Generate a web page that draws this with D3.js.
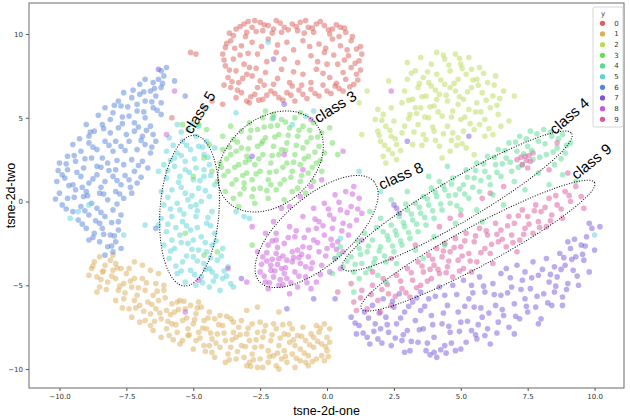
<!DOCTYPE html>
<html>
<head>
<meta charset="utf-8">
<title>t-SNE scatter</title>
<style>
    body { margin: 0; background: #fff; }
    .tick text { font: 7px "DejaVu Sans", sans-serif; fill: #333; }
    .tick line { stroke: #555; }
    .axis-label { font: 12.5px "Liberation Sans", Arial, sans-serif; fill: #000; }
    .note { font: 15px "Liberation Sans", Arial, sans-serif; fill: #000; }
    .ring { fill: none; stroke: #000; stroke-width: 1; stroke-dasharray: 1 1.6; }
    .legend text { font: 7px "DejaVu Sans", sans-serif; fill: #333; }
</style>
</head>
<body>
<svg width="630" height="419"></svg>
<script src="https://d3js.org/d3.v7.min.js"></script>
<script>
const labels = ["0", "1", "2", "3", "4", "5", "6", "7", "8", "9"];
const colors = ["#db5f57", "#dbae57", "#b9db57", "#69db57", "#57db94",
                "#57d3db", "#5784db", "#7957db", "#c957db", "#db579e"];

const xTicks = [-10, -7.5, -5, -2.5, 0, 2.5, 5, 7.5, 10];
const yTicks = [-10, -5, 0, 5, 10];

// digit 0
const class0 = [[-3.4,10.3],[-3.1,10.6],[-2.8,10.4],[-2.5,10.7],[-2.2,10.5],[-1.9,10.8],[-1.6,10.4],[-1.3,10.6],[-1.0,10.7],[-0.7,10.4],[-0.4,10.6],[-0.1,10.5],[0.2,10.3],[0.5,10.4],[0.7,10.1],[-3.0,10.1],[-2.4,10.2],[-1.7,10.1],[-1.1,10.2],[-0.5,10.1],[0.1,10.0],[-2.0,10.3],[-0.8,10.8],[-2.7,10.8],
  [-3.8,9.2],[-3.6,9.6],[-3.9,8.8],[-3.5,8.5],[-3.8,8.1],[-3.4,7.8],[-3.7,7.4],[-3.3,7.1],[-3.6,6.8],[-3.2,6.5],[-3.5,9.9],[-3.2,9.3],[-3.1,8.2],[-3.4,6.2],[-3.0,7.6],
  [-3.0,6.0],[-2.7,6.4],[-2.4,6.1],[-2.1,6.6],[-1.8,6.2],[-1.5,6.5],[-1.2,6.0],[-0.9,6.4],[-0.6,6.7],[-0.3,6.3],[0.0,6.6],[0.3,6.9],[0.6,6.6],[-2.6,6.8],[-1.3,6.9],[-2.9,5.9],
  [0.9,9.6],[1.1,9.1],[0.8,8.7],[1.2,8.4],[0.9,8.0],[1.1,7.6],[0.7,7.3],[1.0,7.0],[0.5,9.3],[0.4,8.2],[0.6,7.7],[1.3,8.8],
  [-2.8,9.5],[-2.2,9.7],[-1.5,9.5],[-0.9,9.6],[-0.3,9.4],[0.2,9.7],[-2.6,8.8],[-1.9,8.9],[-0.6,8.7],[-0.1,8.9],[-2.9,8.0],[-2.3,7.7],[-1.7,7.9],[-0.9,7.6],[-0.4,7.9],[0.1,7.4],[-2.5,7.2],[-1.4,7.1],[-0.6,7.1],[-2.0,7.0],[-1.1,8.3],[-2.8,7.5],[-1.6,8.5],[0.0,8.2],
  [-3.65,10.05],[-3.25,10.45],[-2.95,10.75],[-2.65,10.15],[-2.35,10.55],[-2.05,10.05],[-1.75,10.65],[-1.45,10.25],[-1.15,10.45],[-0.85,10.05],[-0.55,10.35],[-0.25,10.75],[0.05,10.25],[0.35,10.55],[0.65,10.35],[0.95,9.85],[-3.75,9.45],[-3.45,9.15],[-3.85,8.45],[-3.25,8.75],[-3.65,7.85],[-3.15,7.35],[-3.55,7.15],[-3.85,6.95],[-3.35,6.65],[-2.85,6.25],[-2.55,6.05],[-2.25,6.35],[-1.95,6.45],[-1.65,6.05],[-1.35,6.35],[-1.05,6.65],[-0.75,6.15],[-0.45,6.45],[-0.15,6.95],[0.15,6.45],[0.45,6.75],[0.85,6.85],[1.15,7.25],[1.25,7.85],[1.05,8.25],[1.25,9.25],[0.75,9.05],[0.65,8.45],[0.35,7.05],[-2.45,9.25],[-1.85,9.35],[-1.25,9.05],[-0.65,9.25],[-0.05,9.15],[0.45,9.85],[-2.95,8.85],[-2.25,8.35],[-0.35,8.35],[-2.65,7.95],[-1.25,7.75],[-0.15,7.65],[-1.85,7.35],[-0.95,6.95],[-2.35,6.95],[0.25,8.75],[-3.05,9.85],
  [-5.1,8.9],[-4.9,8.8],[-4.3,6.0],[-5.8,5.0],[-3.9,5.8]];

// digit 1
const class1 = [[-8.8,-4.0],[-8.7,-3.6],[-8.6,-4.5],[-8.5,-3.3],[-8.5,-5.1],[-8.4,-4.2],[-8.3,-3.8],[-8.6,-5.4],[-8.2,-4.8],[-8.9,-4.4],
  [-8.1,-3.5],[-8.0,-4.1],[-7.9,-3.7],[-7.9,-4.6],[-7.8,-5.3],[-7.7,-4.0],[-7.6,-4.9],[-7.6,-5.8],[-7.9,-5.9],[-8.0,-3.2],
  [-7.5,-4.3],[-7.4,-6.4],[-7.3,-5.1],[-7.3,-6.9],[-7.2,-4.6],[-7.1,-5.6],[-7.0,-6.2],[-7.0,-7.2],[-7.4,-4.0],[-7.2,-5.9],
  [-6.9,-4.6],[-6.8,-5.3],[-6.7,-6.0],[-6.6,-6.7],[-6.6,-7.4],[-6.5,-5.6],[-6.4,-6.4],[-6.4,-4.9],[-6.8,-7.1],[-6.5,-7.7],
  [-6.3,-5.9],[-6.2,-7.0],[-6.1,-5.3],[-6.0,-6.5],[-6.0,-7.6],[-5.9,-8.0],[-5.8,-6.1],[-5.8,-7.3],[-6.2,-8.1],[-6.1,-5.0],
  [-5.7,-6.6],[-5.6,-7.8],[-5.5,-5.9],[-5.4,-7.1],[-5.4,-8.3],[-5.3,-6.4],[-5.2,-7.6],[-5.6,-6.0],[-5.2,-8.0],[-5.5,-8.5],
  [-5.1,-6.2],[-5.0,-7.3],[-4.9,-8.3],[-4.9,-6.7],[-4.8,-7.8],[-4.7,-6.3],[-4.6,-7.1],[-4.6,-8.6],[-5.0,-8.8],[-4.8,-6.0],
  [-4.5,-7.6],[-4.4,-6.6],[-4.3,-8.2],[-4.3,-9.0],[-4.2,-7.0],[-4.1,-7.9],[-4.0,-8.7],[-4.0,-6.8],[-4.4,-8.6],[-4.2,-9.3],
  [-3.9,-7.4],[-3.8,-8.3],[-3.7,-9.1],[-3.6,-7.0],[-3.6,-8.7],[-3.5,-7.8],[-3.4,-9.4],[-3.4,-8.1],[-3.8,-9.6],[-3.5,-7.2],
  [-3.3,-7.5],[-3.2,-8.6],[-3.1,-9.3],[-3.0,-7.9],[-3.0,-9.8],[-2.9,-8.3],[-2.8,-7.3],[-2.8,-9.1],[-3.2,-7.1],[-2.9,-9.6],
  [-2.7,-8.7],[-2.6,-7.8],[-2.5,-9.4],[-2.4,-8.1],[-2.4,-9.9],[-2.3,-7.4],[-2.2,-8.9],[-2.2,-9.6],[-2.6,-9.9],[-2.5,-7.2],
  [-2.1,-8.3],[-2.0,-9.2],[-1.9,-7.6],[-1.9,-9.8],[-1.8,-8.6],[-1.7,-9.4],[-1.6,-7.9],[-1.6,-8.9],[-2.0,-7.3],[-1.8,-10.0],
  [-1.5,-9.6],[-1.4,-8.4],[-1.3,-7.6],[-1.3,-9.1],[-1.2,-9.9],[-1.1,-8.0],[-1.0,-8.8],[-1.0,-9.5],[-1.4,-7.3],[-1.2,-8.6],
  [-0.9,-7.5],[-0.8,-8.3],[-0.7,-9.2],[-0.7,-9.8],[-0.6,-7.9],[-0.5,-8.7],[-0.4,-9.4],[-0.4,-7.4],[-0.8,-9.6],[-0.5,-8.1],
  [-0.3,-7.8],[-0.2,-8.5],[-0.2,-9.2],[-0.1,-7.3],[0.0,-8.1],[0.0,-8.9],[0.1,-7.6],[-0.1,-9.5],[0.1,-8.4],
  [-8.75,-3.85],[-8.45,-4.65],[-8.25,-5.25],[-8.05,-4.45],[-7.85,-3.95],[-7.75,-5.05],[-7.55,-5.45],[-7.35,-4.75],[-7.15,-6.35],[-7.05,-5.15],[-6.85,-6.55],[-6.75,-4.85],[-6.55,-6.15],[-6.45,-7.15],[-6.35,-5.35],[-6.25,-6.65],[-6.05,-5.75],[-5.95,-7.15],[-5.85,-6.75],[-5.65,-7.35],[-5.55,-6.45],[-5.35,-5.95],[-5.25,-6.95],[-5.15,-7.95],[-4.95,-7.05],[-4.85,-6.35],[-4.75,-8.15],[-4.65,-7.55],[-4.45,-6.95],[-4.35,-7.85],[-4.15,-8.45],[-4.05,-7.35],[-3.85,-7.85],[-3.75,-6.85],[-3.65,-9.45],[-3.55,-8.25],[-3.35,-8.95],[-3.25,-7.95],[-3.05,-8.65],[-2.95,-7.55],[-2.75,-9.45],[-2.65,-8.25],[-2.45,-8.65],[-2.35,-7.75],[-2.15,-9.25],[-2.05,-7.95],[-1.85,-9.05],[-1.75,-8.15],[-1.55,-9.25],[-1.45,-7.95],[-1.25,-8.25],[-1.15,-9.35],[-0.95,-8.05],[-0.85,-9.05],[-0.65,-8.55],[-0.55,-9.55],[-0.35,-8.35],[-0.25,-7.55],[-0.05,-8.65],[0.05,-9.25],[-1.65,-7.35],[-2.85,-9.85],[-4.55,-8.95],[-5.75,-8.25],[-7.65,-6.35],[-8.35,-4.15],
  [-6.9,-3.8],[-6.6,-4.1],[-6.3,-4.3],[-7.2,-3.6],[-2.6,-6.3],[-1.8,-6.6],[-3.0,-6.5]];

// digit 2
const class2 = [[1.8,4.9],[1.9,4.2],[2.0,3.6],[2.1,5.2],[2.2,4.5],[2.3,3.1],[2.4,3.9],[2.5,4.8],[2.6,3.4],[2.1,2.7],[2.6,2.5],[1.9,5.5],[2.4,5.6],[2.2,2.3],[2.8,4.1],
  [2.8,5.9],[2.9,6.6],[3.0,7.3],[3.1,5.2],[3.2,6.1],[3.3,7.8],[3.4,4.6],[3.4,6.8],[3.5,5.6],[3.6,7.4],[3.7,3.7],[3.7,6.3],[3.8,5.0],[3.9,8.2],[3.9,6.9],[4.0,4.2],[4.0,5.7],[4.1,7.6],[4.2,3.3],[4.2,6.4],[4.3,5.1],[4.4,8.5],[4.4,7.0],[4.5,4.5],[4.5,6.0],[4.6,3.0],[4.6,7.8],[4.7,5.4],[4.8,8.8],[4.8,6.6],[4.9,3.8],[4.9,7.3],[5.0,4.9],[5.0,8.2],[5.1,6.1],[5.2,7.6],[5.2,3.2],[5.3,5.5],[5.3,8.6],[5.4,6.8],[5.5,4.3],[5.6,7.3],[5.6,5.9],[5.7,8.0],[5.8,6.5],[5.9,4.9],[6.0,7.1],[6.1,5.6],[6.2,6.3],[6.3,7.5],[6.4,5.2],[6.6,6.6],[6.5,4.5],[5.9,3.9],[3.0,8.3],[3.5,8.6],[2.9,4.5],[3.2,3.4],[4.3,2.6],[5.5,2.8],[4.1,8.9],[3.6,4.0],[4.7,4.1],[5.1,4.2],[3.8,7.1],[4.6,6.8],[5.4,7.9],[4.9,5.8],[3.3,5.6],[4.1,6.1],[5.7,4.6],[6.2,4.0],
  [2.05,4.85],[2.35,4.25],[2.15,3.35],[2.55,3.75],[2.45,2.85],[1.95,3.95],[2.75,3.05],[3.05,6.05],[3.15,7.65],[3.35,5.25],[3.45,7.05],[3.55,6.25],[3.65,5.05],[3.75,7.75],[3.85,5.65],[3.95,4.45],[4.05,6.65],[4.15,5.35],[4.25,7.25],[4.35,4.05],[4.45,6.35],[4.55,8.15],[4.65,5.05],[4.75,7.05],[4.85,3.35],[4.95,6.25],[5.05,7.95],[5.15,5.05],[5.25,6.55],[5.35,4.65],[5.45,7.25],[5.55,5.35],[5.65,6.95],[5.75,5.35],[5.85,7.65],[5.95,6.05],[6.05,4.35],[6.25,6.95],[6.35,5.75],[6.45,6.15],[4.35,8.75],[4.95,8.55],[3.25,4.15],[3.05,4.95],[4.05,3.65],[4.65,3.65],[5.05,3.45],[3.55,3.35],
  [1.5,6.6],[1.2,5.9],[7.0,6.3],[6.8,4.8],[2.3,7.2],[1.3,4.0]];

// digit 3
const class3 = [[-4.1,1.2],[-4.0,2.3],[-3.9,3.1],[-3.8,0.6],[-3.7,1.8],[-3.6,2.8],[-3.5,3.7],[-3.5,0.2],[-3.4,1.3],[-3.3,2.2],[-3.2,4.2],[-3.2,3.2],[-3.1,0.8],[-3.0,1.7],[-3.0,2.7],[-2.9,3.8],[-2.9,4.7],[-2.8,0.3],[-2.8,1.3],[-2.7,2.2],[-2.6,3.3],[-2.6,4.3],[-2.5,0.8],[-2.5,1.8],[-2.4,2.8],[-2.4,5.0],[-2.3,3.8],[-2.2,0.2],[-2.2,1.3],[-2.1,2.3],[-2.1,4.5],[-2.0,3.3],[-2.0,5.2],[-1.9,0.7],[-1.9,1.8],[-1.8,2.8],[-1.8,4.0],[-1.7,4.9],[-1.6,0.1],[-1.6,1.3],[-1.5,2.3],[-1.5,3.5],[-1.4,4.4],[-1.3,0.6],[-1.3,1.8],[-1.2,2.8],[-1.2,5.0],[-1.1,3.9],[-1.0,1.2],[-1.0,2.2],[-0.9,3.2],[-0.9,4.5],[-0.8,0.5],[-0.7,1.7],[-0.7,2.7],[-0.6,3.8],[-0.5,4.7],[-0.5,1.2],[-0.4,2.3],[-0.3,3.3],[-0.2,4.1],[-0.2,1.8],
  [-3.85,1.55],[-3.75,2.55],[-3.55,1.05],[-3.45,2.05],[-3.35,3.55],[-3.25,0.45],[-3.15,1.55],[-3.05,2.35],[-2.95,3.15],[-2.85,4.25],[-2.75,0.75],[-2.65,1.65],[-2.55,2.55],[-2.45,3.45],[-2.35,4.45],[-2.25,0.65],[-2.15,1.75],[-2.05,2.75],[-1.95,3.85],[-1.85,4.55],[-1.75,1.05],[-1.65,2.05],[-1.55,3.05],[-1.45,3.95],[-1.35,1.45],[-1.25,2.35],[-1.15,3.35],[-1.05,4.25],[-0.95,1.55],[-0.85,2.55],[-0.75,3.55],[-0.65,4.25],[-0.55,2.05],[-0.45,2.95],[-0.35,3.85],[-0.25,2.45],[-3.65,3.25],[-3.95,2.05],[-2.05,4.95],[-1.55,4.75],
  [-3.6,4.5],[-3.9,3.9],[-2.3,5.4],[-1.0,5.3],[-3.3,-0.3],[-2.7,-0.1],[-0.1,2.9],[0.2,3.5],[0.4,2.8],[0.1,4.4],[-4.4,3.4],[-4.6,2.6],[-4.5,4.3],[-4.3,1.8],[-4.8,4.6],[-5.4,4.6],[-5.0,1.5],[-2.1,1.0],[-2.9,2.5],[-1.7,3.1],[-2.4,3.6],[-3.4,3.0],[-1.1,0.8],[-3.1,1.1],
  [-5.3,-1.9],[-4.6,-3.2],[-4.1,-3.0],[-2.8,-2.6]];

// digit 4
const class4 = [[0.6,-3.9],[0.9,-3.3],[1.0,-4.2],[1.2,-2.8],[1.3,-3.7],[1.5,-3.0],[1.6,-4.0],[1.7,-2.3],[1.8,-3.4],[2.0,-2.7],[2.1,-1.8],[2.2,-3.6],[2.3,-2.3],[2.4,-1.4],[2.5,-3.0],[2.6,-2.0],[2.7,-0.9],[2.8,-2.6],[2.9,-1.5],[3.0,-0.5],[3.1,-2.2],[3.2,-1.1],[3.3,-0.1],[3.4,-1.8],[3.5,-0.7],[3.6,0.3],[3.7,-1.4],[3.8,-0.2],[3.9,0.8],[4.0,-1.0],[4.1,0.3],[4.2,1.2],[4.3,-0.5],[4.4,0.7],[4.6,-0.1],[4.7,1.4],[4.8,0.4],[5.0,-0.5],[5.1,1.0],[5.2,1.9],[5.3,0.2],[5.5,1.4],[5.6,2.3],[5.7,0.6],[5.9,1.8],[6.0,2.7],[6.1,1.0],[6.3,2.2],[6.4,3.1],[6.5,1.5],[6.7,2.6],[6.8,3.5],[6.9,1.8],[7.1,3.0],[7.2,3.9],[7.3,2.2],[7.5,3.3],[7.6,4.2],[7.7,2.5],[7.9,3.6],[8.1,4.3],[8.2,2.8],[8.4,3.9],[8.6,3.2],[8.8,4.0],[8.9,2.9],[8.5,2.2],[9.1,3.5],
  [0.75,-3.55],[1.05,-3.75],[1.25,-3.15],[1.45,-4.25],[1.55,-2.65],[1.75,-3.65],[1.95,-2.95],[2.15,-3.25],[2.25,-2.05],[2.45,-2.65],[2.55,-1.75],[2.75,-2.35],[2.85,-1.25],[3.05,-1.85],[3.15,-0.75],[3.35,-1.35],[3.45,-0.35],[3.65,-0.95],[3.75,0.15],[3.95,-0.55],[4.05,0.55],[4.25,-0.15],[4.35,0.95],[4.55,0.35],[4.65,1.05],[4.85,-0.25],[4.95,0.75],[5.15,0.45],[5.25,1.45],[5.45,0.85],[5.55,1.85],[5.75,1.25],[5.85,2.25],[6.05,1.45],[6.25,2.65],[6.35,1.75],[6.55,2.25],[6.65,3.05],[6.85,2.35],[7.05,3.55],[7.15,2.05],[7.35,2.85],[7.45,3.75],[7.65,3.05],[7.85,4.05],[7.95,2.65],[8.15,3.45],[8.35,4.15],[8.45,2.95],[8.65,3.75],[8.95,3.35],[8.75,2.55],[1.15,-2.35],[0.45,-3.15],[1.85,-1.55],[2.95,-0.15],
  [7.9,1.7],[7.0,1.2],[6.2,0.4],[5.6,-0.5],[4.8,-1.3],[4.0,-2.1],[3.3,-2.9],[2.6,-3.7],[1.9,-4.4],[1.2,-4.6],[0.3,-3.4],[0.2,-4.3],[0.5,-2.7],[1.4,-1.9],[2.0,-1.0],[3.0,0.6],[3.8,1.5],[4.5,2.1],[2.4,0.1],[1.6,-0.6],[8.3,1.0],[8.8,1.6],[9.3,1.2],[7.4,0.7],[6.6,-0.2],[5.8,-1.2],[4.4,-2.6],[3.6,-3.4],[2.2,-4.8],[1.0,-5.4]];

// digit 5
const class5 = [[-5.6,4.6],[-5.2,4.3],[-4.8,4.5],[-5.9,3.8],[-5.4,3.6],[-4.9,3.9],[-4.5,3.6],[-6.0,3.0],[-5.6,2.9],[-5.1,3.1],[-4.6,2.8],[-4.2,3.2],
  [-6.1,2.2],[-5.7,2.1],[-5.3,2.4],[-4.9,2.0],[-4.4,2.2],[-6.0,1.4],[-5.5,1.5],[-5.0,1.3],[-4.6,1.5],[-4.2,1.0],[-6.2,0.6],[-5.8,0.7],[-5.3,0.5],[-4.8,0.8],[-4.4,0.3],
  [-6.1,-0.2],[-5.6,-0.1],[-5.1,-0.3],[-4.7,0.0],[-4.3,-0.6],[-6.2,-1.0],[-5.8,-0.9],[-5.4,-1.2],[-4.9,-0.9],[-4.5,-1.3],[-6.0,-1.8],[-5.5,-2.0],[-5.1,-1.7],[-4.7,-2.1],[-4.2,-1.9],
  [-6.1,-2.6],[-5.7,-2.8],[-5.2,-2.5],[-4.8,-2.9],[-4.3,-2.6],[-3.9,-2.8],[-5.9,-3.4],[-5.4,-3.6],[-5.0,-3.3],[-4.6,-3.7],[-4.1,-3.5],[-3.7,-3.9],[-5.6,-4.3],[-5.1,-4.1],[-4.7,-4.5],[-4.3,-4.2],[-3.9,-4.6],[-3.6,-4.9],[-5.3,-4.8],[-4.9,-5.0],[-4.4,-5.1],[-4.0,-5.3],
  [-5.3,1.9],[-4.9,-0.2],[-5.5,-0.5],[-5.7,2.6],[-4.8,3.3],[-5.0,-2.3],[-4.5,-3.0],[-4.4,-4.0],[-5.2,0.1],[-4.6,1.9],[-5.8,-2.3],[-6.3,-1.4],[-6.3,1.8],
  [-5.45,4.15],[-5.05,4.65],[-5.75,3.35],[-5.25,3.35],[-4.65,3.25],[-5.85,2.45],[-5.45,2.75],[-4.95,2.55],[-4.45,2.65],[-5.95,1.85],[-5.55,1.15],[-5.15,1.75],[-4.75,1.25],[-4.35,1.55],[-5.95,0.25],[-5.45,0.85],[-5.05,0.35],[-4.55,0.65],[-5.85,-0.45],[-5.35,-0.75],[-4.85,-0.55],[-4.45,-0.95],[-5.95,-1.35],[-5.65,-1.55],[-5.25,-1.45],[-4.85,-1.55],[-4.35,-1.45],[-5.85,-2.95],[-5.45,-2.45],[-5.05,-2.85],[-4.55,-2.45],[-4.15,-2.35],[-5.65,-3.85],[-5.25,-3.25],[-4.85,-3.55],[-4.35,-3.35],[-3.95,-3.25],[-5.45,-4.15],[-4.95,-4.35],[-4.55,-4.05],[-4.15,-4.45],[-3.85,-4.15],[-4.65,-4.85],[-4.25,-4.75],[-3.75,-4.45],
  [-2.0,5.0],[-1.3,4.6],[-0.8,5.1],[-3.4,-0.6],[-2.9,-1.0],[-2.2,9.5],[-3.4,5.3],[-0.5,5.4],[-9.6,-1.0],[-9.3,-0.6],[-8.9,-0.2],[-7.6,-2.0],[-6.8,-1.4],[-3.1,-0.9],[0.5,-2.2],[-3.5,-5.1],[10.0,-2.0],[1.2,1.8],[2.0,0.6]];

// digit 6
const class6 = [[-6.0,8.0],[-6.2,7.8],[-6.1,7.5],[-6.8,7.3],[-6.5,7.1],[-6.3,7.3],[-7.0,7.0],[-6.2,6.8],[-6.6,6.6],
  [-7.6,6.5],[-7.3,6.2],[-7.0,6.4],[-6.8,6.0],[-6.4,6.3],[-6.2,5.9],[-7.8,6.0],[-7.1,5.8],
  [-8.3,5.6],[-8.0,5.3],[-7.7,5.7],[-7.4,5.1],[-7.1,5.4],[-6.8,5.0],[-6.5,5.6],[-6.2,5.2],[-8.1,4.9],[-7.2,4.7],[-6.6,4.5],
  [-9.0,4.6],[-8.7,4.2],[-8.4,4.6],[-8.1,4.1],[-7.8,4.4],[-7.5,4.0],[-7.2,4.2],[-6.9,3.9],[-6.5,4.0],[-8.9,3.9],[-7.9,3.6],[-6.4,3.6],
  [-9.5,3.4],[-9.2,3.0],[-8.9,3.5],[-8.6,3.1],[-8.3,3.6],[-8.0,3.0],[-7.7,3.3],[-7.4,3.6],[-7.1,3.1],[-6.8,3.4],[-6.6,2.9],[-9.7,2.7],[-8.4,2.6],[-7.3,2.5],
  [-10.0,2.3],[-9.7,1.9],[-9.4,2.4],[-9.1,2.0],[-8.8,2.6],[-8.6,2.1],[-8.2,2.3],[-7.9,1.9],[-7.6,2.2],[-7.2,1.8],[-6.9,2.4],[-6.7,2.0],[-9.9,1.6],
  [-10.1,1.2],[-9.8,1.4],[-9.5,1.0],[-9.2,1.5],[-8.9,1.1],[-8.6,1.6],[-8.3,1.2],[-8.0,1.5],[-7.7,1.0],[-7.4,1.3],[-7.1,1.1],[-9.0,0.6],
  [-10.0,0.5],[-9.7,0.2],[-9.4,0.7],[-9.1,0.3],[-8.8,-0.1],[-8.5,0.5],[-8.2,0.1],[-7.9,0.6],[-7.6,0.2],[-7.3,0.5],[-9.9,-0.2],
  [-9.5,-0.6],[-9.2,-0.3],[-8.9,-0.8],[-8.6,-0.4],[-8.3,-0.9],[-8.0,-0.5],[-7.7,-0.8],[-9.3,-1.1],[-8.5,-1.3],[-7.8,-1.2],
  [-9.0,-1.6],[-8.7,-1.9],[-8.4,-1.6],[-8.1,-2.0],[-7.8,-1.7],[-8.9,-2.3],
  [-8.5,-2.4],[-8.2,-2.7],[-7.9,-2.4],[-8.0,-3.0],[-7.7,-2.8],[-8.3,-3.2],
  [-6.15,7.05],[-6.45,6.75],[-6.85,6.55],[-7.25,6.65],[-6.55,5.95],[-7.45,5.65],[-7.95,5.75],[-6.35,5.45],[-6.85,5.35],[-7.65,5.05],[-8.55,5.15],[-7.05,4.45],[-7.65,4.65],[-8.35,4.35],[-8.85,4.15],[-6.75,4.25],[-9.25,3.75],[-8.75,3.25],[-8.15,3.35],[-7.55,3.05],[-6.95,3.65],[-6.55,3.25],[-9.45,2.75],[-9.05,2.55],[-8.45,2.05],[-7.85,2.45],[-7.05,2.15],[-9.75,2.25],[-10.05,1.85],[-9.35,1.75],[-8.75,1.35],[-8.15,1.85],[-7.55,1.55],[-6.95,1.45],[-9.65,0.95],[-9.15,0.85],[-8.45,0.85],[-7.85,1.25],[-7.35,0.85],[-10.15,0.15],[-9.45,0.25],[-8.95,0.35],[-8.35,0.45],[-7.75,0.45],[-9.75,-0.45],[-9.05,-0.55],[-8.45,-0.65],[-7.85,-0.15],[-9.15,-1.35],[-8.65,-1.15],[-8.05,-1.25],[-8.75,-2.15],[-8.35,-1.95],[-7.95,-2.05],[-8.05,-2.65],
  [-6.4,-1.6],[-5.7,7.2],[-5.3,6.3],[-4.6,5.6]];

// digit 7
const class7 = [[0.9,-6.9],[1.2,-7.4],[1.4,-6.6],[1.1,-7.9],[1.5,-8.1],
  [1.7,-6.2],[1.8,-7.3],[1.9,-8.2],[2.1,-5.8],[2.2,-6.9],[2.3,-7.8],[2.4,-8.6],[2.5,-6.3],[2.0,-7.6],[1.6,-8.5],
  [2.6,-7.3],[2.7,-5.5],[2.8,-8.3],[2.9,-6.6],[3.0,-7.7],[3.1,-8.9],[3.2,-6.0],[3.3,-7.1],[3.4,-8.4],[3.5,-5.4],[2.9,-9.0],[3.5,-6.5],
  [3.6,-7.6],[3.7,-8.9],[3.8,-5.8],[3.9,-6.8],[4.0,-8.1],[4.1,-9.3],[4.2,-5.1],[4.3,-7.3],[4.4,-8.6],[4.5,-6.2],[4.0,-9.0],[4.4,-5.6],
  [4.6,-7.8],[4.7,-5.0],[4.8,-8.9],[4.9,-6.6],[5.0,-7.2],[5.1,-4.7],[5.2,-8.4],[5.3,-5.8],[5.4,-7.7],[5.5,-6.3],[5.0,-8.8],[5.4,-5.0],
  [5.6,-8.2],[5.7,-4.5],[5.8,-6.9],[5.9,-5.4],[6.0,-7.6],[6.1,-8.5],[6.2,-4.9],[6.3,-6.2],[6.4,-7.2],[6.5,-4.3],[5.9,-8.0],[6.5,-5.6],
  [6.6,-6.8],[6.7,-4.0],[6.8,-7.5],[6.9,-5.1],[7.0,-6.1],[7.1,-3.8],[7.2,-7.0],[7.3,-4.7],[7.4,-5.8],[7.5,-6.6],[7.0,-7.9],[7.4,-4.2],
  [7.6,-5.2],[7.7,-3.6],[7.8,-6.3],[7.9,-4.4],[8.0,-7.0],[8.1,-5.5],[8.2,-3.4],[8.3,-4.8],[8.4,-6.2],[8.5,-3.9],[7.9,-7.3],[8.5,-5.4],
  [8.6,-4.5],[8.7,-3.1],[8.8,-5.7],[8.9,-3.8],[9.0,-4.9],[9.1,-2.8],[9.2,-4.1],[9.3,-3.3],[9.4,-5.0],[9.5,-2.6],[8.8,-6.2],[9.0,-2.4],
  [9.6,-3.5],[9.7,-2.1],[9.8,-4.2],[9.9,-1.6],[10.0,-2.9],[9.8,-1.3],[10.2,-1.5],
  [1.05,-7.25],[1.35,-7.85],[1.55,-6.95],[1.75,-7.75],[1.95,-6.65],[2.05,-8.45],[2.25,-7.35],[2.45,-5.95],[2.55,-8.15],[2.75,-6.95],[2.85,-7.95],[3.05,-6.25],[3.15,-8.35],[3.35,-5.75],[3.45,-7.65],[3.65,-6.25],[3.75,-8.45],[3.95,-7.35],[4.05,-5.65],[4.25,-8.85],[4.35,-6.65],[4.55,-7.45],[4.65,-8.45],[4.85,-5.55],[4.95,-7.75],[5.15,-6.25],[5.25,-7.15],[5.45,-5.45],[5.55,-7.95],[5.75,-6.35],[5.85,-5.05],[6.05,-6.65],[6.25,-5.55],[6.35,-7.85],[6.55,-6.45],[6.75,-5.45],[6.85,-4.55],[7.05,-6.85],[7.25,-5.25],[7.45,-6.25],[7.65,-4.55],[7.85,-5.65],[8.05,-4.05],[8.25,-6.05],[8.35,-4.35],[8.55,-5.05],[8.75,-4.05],[8.95,-5.25],[9.15,-3.45],[9.35,-4.45],[9.55,-3.15],[9.65,-2.65],[8.85,-3.35],[9.25,-2.25],[5.65,-7.35],[4.45,-9.05],[3.85,-9.15],
  [0.3,-5.8],[-0.5,-5.8],[-3.2,-4.6],[-1.5,-6.4],[-2.8,2.7],[2.6,-0.4],[2.7,-0.7],[2.5,-0.2],[3.0,3.6],[5.3,3.9],[-6.3,7.9],[-2.0,8.5],[-1.6,5.8]];

// digit 8
const class8 = [[-2.5,-4.2],[-2.4,-3.3],[-2.3,-4.8],[-2.2,-2.6],[-2.1,-3.8],[-2.0,-4.5],[-1.9,-1.9],[-1.9,-3.1],[-1.8,-5.0],[-1.7,-4.0],[-1.6,-2.5],[-1.5,-3.5],[-1.5,-4.6],[-1.4,-1.5],[-1.3,-3.0],[-1.2,-4.2],[-1.2,-2.1],[-1.1,-5.1],[-1.0,-3.7],[-0.9,-0.9],[-0.9,-2.7],[-0.8,-4.5],[-0.7,-1.7],[-0.7,-3.3],[-0.6,-4.0],[-0.5,-0.4],[-0.5,-2.3],[-0.4,-4.8],[-0.3,-1.2],[-0.3,-3.0],[-0.2,-3.8],[-0.1,-0.1],[-0.1,-2.0],[0.0,-2.8],[0.1,-0.8],[0.1,-4.2],[0.2,-1.6],[0.3,0.4],[0.3,-3.4],[0.4,-2.4],[0.5,-0.5],[0.6,-1.3],[0.6,-3.0],[0.7,0.6],[0.8,-2.0],[0.9,-0.3],[1.0,0.9],[1.1,-1.1],[1.2,0.2],[1.3,-0.7],
  [-2.3,-1.9],[-2.0,-1.2],[-1.7,-0.4],[-1.0,0.3],[-1.4,-0.3],[-0.6,0.9],[-0.2,1.3],[-2.6,-3.0],[-2.2,-5.2],[-1.4,-5.5],[-0.6,-5.2],[0.5,-4.0],[1.3,-2.3],[-1.8,-3.4],[-1.1,-2.9],[-0.8,-3.9],[-2.1,-4.1],[-1.6,-4.3],[-1.3,-3.6],[-1.9,-2.3],[-0.4,-1.6],[0.2,-2.6],
  [-2.45,-3.75],[-2.35,-4.45],[-2.25,-3.05],[-2.15,-4.85],[-2.05,-3.45],[-1.95,-4.15],[-1.85,-2.75],[-1.75,-4.65],[-1.65,-3.25],[-1.55,-3.95],[-1.45,-2.15],[-1.35,-4.85],[-1.25,-3.35],[-1.15,-1.75],[-1.05,-4.45],[-0.95,-3.15],[-0.85,-2.15],[-0.75,-4.85],[-0.65,-2.75],[-0.55,-3.65],[-0.45,-1.05],[-0.35,-2.45],[-0.25,-4.35],[-0.15,-1.45],[-0.05,-3.25],[0.05,-0.45],[0.15,-2.25],[0.25,-1.05],[0.35,-2.85],[0.45,-0.05],[0.55,-1.75],[0.75,-0.65],[0.85,-1.45],[0.95,0.45],[1.15,-0.45],[-2.25,-3.55],[-1.65,-4.95],[-1.05,-3.35],[-1.85,-3.75],[-2.05,-2.35],
  [-4.8,-4.7],[-3.7,-4.0],[-3.0,-4.8],[-5.7,6.6],[-6.0,4.0],[-1.6,2.8],[-0.6,4.9],[-5.3,-6.6],[2.4,6.6],[-2.8,-1.5],[0.6,3.0],[-0.9,1.9]];

// digit 9
const class9 = [[1.0,-6.0],[1.3,-5.3],[1.5,-6.4],[1.7,-5.0],[1.9,-5.9],[2.1,-4.6],[2.3,-5.5],[2.4,-6.2],[2.6,-4.4],[2.8,-5.2],[3.0,-4.0],[3.1,-5.7],[3.2,-4.7],[3.4,-3.6],[3.5,-5.0],[3.6,-4.2],[3.8,-3.2],[3.9,-4.6],[4.0,-3.8],[4.1,-2.8],[4.2,-4.3],[4.3,-3.3],[4.4,-2.5],[4.5,-3.9],[4.6,-3.0],[4.7,-4.5],[4.8,-2.2],[4.9,-3.5],[5.0,-2.7],[5.1,-4.0],[5.2,-1.9],[5.3,-3.1],[5.5,-2.4],[5.6,-3.6],[5.7,-1.6],[5.9,-2.8],[6.0,-2.0],[6.1,-3.1],[6.3,-1.3],[6.4,-2.4],[6.5,-1.7],[6.7,-2.7],[6.8,-0.9],[6.9,-2.0],[7.0,-1.3],[7.2,-2.3],[7.3,-0.5],[7.4,-1.6],[7.5,-0.9],[7.7,-1.9],[7.8,-0.2],[7.9,-1.2],[8.0,-0.6],[8.2,-1.5],[8.3,0.2],[8.4,-0.8],[8.6,-0.2],[8.8,-1.0],[8.9,0.6],[9.1,0.0],[9.3,0.9],[9.5,0.3],[9.6,-0.4],
  [1.25,-5.75],[1.65,-5.55],[2.05,-5.25],[2.25,-4.95],[2.55,-5.65],[2.75,-4.75],[2.95,-5.45],[3.15,-4.25],[3.35,-5.15],[3.55,-3.85],[3.75,-4.75],[3.95,-3.45],[4.15,-4.05],[4.35,-2.95],[4.55,-3.55],[4.75,-2.75],[4.95,-4.15],[5.15,-2.35],[5.35,-3.55],[5.55,-2.05],[5.75,-3.05],[5.95,-1.75],[6.15,-2.55],[6.35,-1.95],[6.55,-2.25],[6.75,-1.45],[6.95,-2.45],[7.15,-0.85],[7.35,-1.95],[7.55,-1.35],[7.75,-0.55],[7.95,-1.55],[8.15,-0.35],[8.35,-1.15],[8.55,0.35],[8.75,-0.45],[9.05,0.35],[4.45,-4.25],[3.85,-4.05],[5.05,-3.25],[7.45,2.45],[7.55,2.75],[7.25,2.65],
  [7.4,2.7],[7.6,2.4],[7.3,2.2],[7.7,2.9],[7.1,2.5],[7.5,2.0],[6.6,0.9],[5.8,0.2],[5.0,-0.8],[4.2,-1.5],[3.3,-2.6],[2.4,-3.4],[1.7,-4.2],[0.9,-4.9],[0.4,-5.4],[8.6,3.5],[8.3,1.9],[6.1,0.5],[4.6,-1.0],[9.0,1.7],[2.0,-6.6],[1.1,-6.5],[6.2,-3.7],[7.1,-3.0],[5.4,-4.2]];

const classes = [class0, class1, class2, class3, class4, class5, class6, class7, class8, class9];

// dotted rings drawn over the plot (centre in data units, radii in px)
const notes = [
    { text: "class 5", cx: -5.14, cy: -0.54, rx: 29.5, ry: 75.5, rot: 4,     tx: -5.07, ty: 3.97, trot: -58 },
    { text: "class 3", cx: -2.11, cy: 2.39,  rx: 59,   ry: 43,   rot: -41,   tx: -0.33, ty: 4.66, trot: -32 },
    { text: "class 8", cx: -0.39, cy: -1.79, rx: 76,   ry: 34,   rot: -41,   tx: 2.04,  ty: 0.69, trot: -24 },
    { text: "class 4", cx: 4.86,  cy: 0.03,  rx: 133,  ry: 21.4, rot: -30.5, tx: 8.52,  ty: 3.96, trot: -41 },
    { text: "class 9", cx: 5.64,  cy: -2.63, rx: 132.6,ry: 19.8, rot: -28.4, tx: 9.32,  ty: 1.27, trot: -39 }
];

const svg = d3.select("svg");
const plotLeft = 29, plotRight = 624, plotTop = 3, plotBottom = 388;

const x = d3.scaleLinear().domain([-11.14, 11.1]).range([plotLeft, plotRight]);
const y = d3.scaleLinear().domain([-11.13, 11.85]).range([plotBottom, plotTop]);

// mix the classes in drawing order like a shuffled frame
const points = [];
const maxLen = d3.max(classes, c => c.length);
for (let i = 0; i < maxLen; i++) {
    classes.forEach((c, k) => { if (i < c.length) points.push({ x: c[i][0], y: c[i][1], k: k }); });
}

svg.append("g")
    .selectAll("circle")
    .data(points)
    .join("circle")
    .attr("cx", d => x(d.x))
    .attr("cy", d => y(d.y))
    .attr("r", 2.8)
    .attr("fill", d => colors[d.k])
    .attr("fill-opacity", 0.5);

// frame
svg.append("rect")
    .attr("x", plotLeft).attr("y", plotTop)
    .attr("width", plotRight - plotLeft).attr("height", plotBottom - plotTop)
    .attr("fill", "none").attr("stroke", "#777").attr("stroke-width", 1.1);

svg.append("g")
    .attr("transform", `translate(0,${plotBottom})`)
    .call(d3.axisBottom(x).tickValues(xTicks).tickFormat(d3.format(".1f")).tickSize(3).tickPadding(3))
    .call(g => g.select(".domain").remove());

svg.append("g")
    .attr("transform", `translate(${plotLeft},0)`)
    .call(d3.axisLeft(y).tickValues(yTicks).tickFormat(d3.format("d")).tickSize(3).tickPadding(3))
    .call(g => g.select(".domain").remove());

svg.append("text").attr("class", "axis-label")
    .attr("x", (plotLeft + plotRight) / 2).attr("y", 415)
    .attr("text-anchor", "middle").text("tsne-2d-one");

svg.append("text").attr("class", "axis-label")
    .attr("transform", `translate(15,${(plotTop + plotBottom) / 2}) rotate(-90)`)
    .attr("text-anchor", "middle").text("tsne-2d-two");

// annotations
const ann = svg.append("g");
ann.selectAll("ellipse")
    .data(notes)
    .join("ellipse")
    .attr("class", "ring")
    .attr("rx", d => d.rx).attr("ry", d => d.ry)
    .attr("transform", d => `translate(${x(d.cx)},${y(d.cy)}) rotate(${d.rot})`);

ann.selectAll("text")
    .data(notes)
    .join("text")
    .attr("class", "note")
    .attr("transform", d => `translate(${x(d.tx)},${y(d.ty)}) rotate(${d.trot})`)
    .text(d => d.text);

// legend
const legend = svg.append("g").attr("class", "legend");
legend.append("rect")
    .attr("x", 593).attr("y", 7).attr("width", 30).attr("height", 120)
    .attr("rx", 2).attr("fill", "#fff").attr("fill-opacity", 0.8)
    .attr("stroke", "#ccc").attr("stroke-width", 0.8);
legend.append("text").attr("x", 603).attr("y", 16).attr("text-anchor", "middle").text("y");

const ly = d3.scaleLinear().domain([0, 9]).range([23.3, 119.3]);
const item = legend.selectAll(".item")
    .data(labels)
    .join("g")
    .attr("class", "item")
    .attr("transform", (d, i) => `translate(0,${ly(i)})`);
item.append("circle").attr("cx", 602.5).attr("r", 2.6).attr("fill", (d, i) => colors[i]);
item.append("text").attr("x", 616.5).attr("dy", "0.35em").attr("text-anchor", "middle").text(d => d);
</script>
</body>
</html>
